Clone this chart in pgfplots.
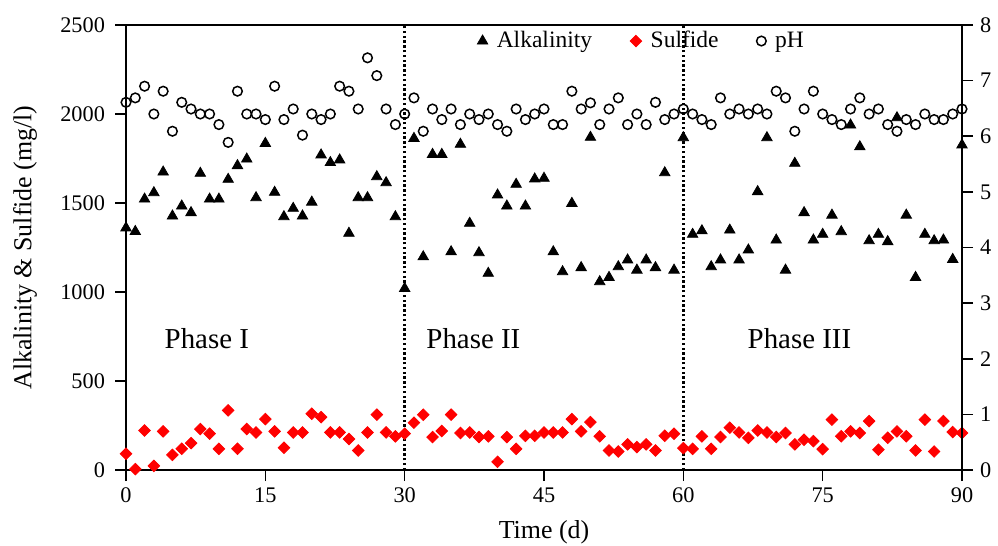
\documentclass[border=0pt]{standalone}
\usepackage{fontspec}
\setmainfont{Liberation Serif}
\usepackage{pgfplots}
\usepackage{pgfplotstable}
\pgfplotsset{compat=1.18}

\pgfplotstableread{
t alk sul ph
0 1360 91 6.61
1 1340 5 6.69
2 1522 222 6.90
3 1558 23 6.40
4 1674 217 6.81
5 1427 85 6.09
6 1483 119 6.61
7 1446 151 6.49
8 1667 230 6.40
9 1522 204 6.40
10 1522 119 6.21
11 1633 335 5.89
12 1710 119 6.81
13 1747 230 6.40
14 1530 211 6.40
15 1835 286 6.30
16 1560 217 6.90
17 1423 125 6.30
18 1470 211 6.49
19 1427 211 6.02
20 1505 316 6.40
21 1770 297 6.30
22 1727 211 6.40
23 1742 211 6.90
24 1330 174 6.81
25 1530 110 6.49
26 1530 211 7.41
27 1648 311 7.09
28 1614 211 6.49
29 1423 189 6.21
30 1020 204 6.40
31 1863 266 6.69
32 1198 311 6.09
33 1773 185 6.49
34 1773 219 6.30
35 1226 311 6.49
36 1830 208 6.21
37 1386 211 6.40
38 1221 185 6.30
39 1105 189 6.40
40 1545 46 6.21
41 1483 185 6.09
42 1605 119 6.49
43 1483 192 6.30
44 1635 192 6.40
45 1639 211 6.49
46 1226 211 6.21
47 1114 211 6.21
48 1498 286 6.81
49 1137 217 6.49
50 1869 269 6.60
51 1058 189 6.21
52 1082 110 6.49
53 1142 104 6.69
54 1180 144 6.21
55 1123 129 6.40
56 1180 144 6.21
57 1137 110 6.61
58 1670 192 6.30
59 1123 204 6.40
60 1867 123 6.49
61 1324 119 6.40
62 1344 189 6.30
63 1142 119 6.21
64 1180 185 6.69
65 1348 238 6.40
66 1180 211 6.49
67 1236 181 6.40
68 1564 222 6.49
69 1867 211 6.40
70 1292 185 6.81
71 1123 208 6.69
72 1723 144 6.09
73 1446 170 6.49
74 1292 162 6.81
75 1324 117 6.40
76 1432 283 6.30
77 1339 190 6.21
78 1938 217 6.49
79 1816 208 6.69
80 1288 275 6.40
81 1324 114 6.49
82 1283 181 6.21
83 1979 217 6.09
84 1432 190 6.30
85 1082 110 6.21
86 1324 283 6.40
87 1288 104 6.30
88 1292 275 6.30
89 1183 213 6.40
90 1826 208 6.49
}\datatable

\definecolor{sulred}{RGB}{255,0,0}

\pgfplotsset{
  common/.style={
    scale only axis,
    width=418bp, height=222.5bp,
    xmin=0, xmax=90,
    tick align=outside,
    major tick length=5.5bp,
    tick style={black, line width=0.8bp},
    axis line style={black, line width=1bp},
    /pgf/number format/assume math mode=true,
    /pgf/number format/1000 sep={},
    tick label style={font=\fontsize{11.2}{13}\selectfont, black},
    label style={font=\fontsize{13}{15}\selectfont, black},
  }
}

\begin{document}
\begin{tikzpicture}
\begin{axis}[common,
  name=main,
  ymin=0, ymax=2500,
  xtick={0,15,...,90},
  ytick={0,500,...,2500},
  xtick pos=left, ytick pos=left,
  yticklabel style={xshift=-1.5bp},
  xlabel={Time (d)},
  ylabel={Alkalinity \& Sulfide (mg/l)},
  xlabel style={at={([yshift=-31bp]axis description cs:0.5,0)}, anchor=center},
  ylabel style={at={([xshift=-50.5bp]axis description cs:0,0.5)}, anchor=center},
  legend columns=3,
  legend style={draw=none, fill=none, at={(0.618,0.964)}, anchor=center,
    font=\fontsize{11.8}{13}\selectfont,
    /tikz/every odd column/.append style={column sep=2.5bp},
    /tikz/every even column/.append style={column sep=17bp}},
]
\addplot[only marks, mark=triangle*, mark size=3bp, black, mark options={fill=black}]
  table[x=t, y=alk] {\datatable};
\addlegendentry{Alkalinity}
\addplot[only marks, mark=square*, mark size=2.05bp, sulred, mark options={rotate=45, fill=sulred, draw=sulred}]
  table[x=t, y=sul] {\datatable};
\addlegendentry{Sulfide}
\addlegendimage{only marks, mark=o, mark size=2.4bp, black, mark options={line width=0.75bp}}
\addlegendentry{pH}
\addplot[forget plot, black, line width=1.5bp, dash pattern=on 1.2bp off 1.2bp] coordinates {(30,0) (30,2500)};
\addplot[forget plot, black, line width=1.5bp, dash pattern=on 1.2bp off 1.2bp] coordinates {(60,0) (60,2500)};
\node[anchor=base, font=\fontsize{14.5}{16}\selectfont] at (axis cs:8.7,685) {Phase I};
\node[anchor=base, font=\fontsize{14.5}{16}\selectfont] at (axis cs:37.4,685) {Phase II};
\node[anchor=base, font=\fontsize{14.5}{16}\selectfont] at (axis cs:72.5,685) {Phase III};
\end{axis}
\begin{axis}[common,
  ymin=0, ymax=8,
  ytick={0,1,...,8},
  axis x line=none,
  axis y line*=right,
]
\addplot[only marks, mark=o, mark size=2.4bp, black, mark options={line width=0.75bp}]
  table[x=t, y=ph] {\datatable};
\end{axis}
\pgfresetboundingbox
\path ([xshift=-63bp, yshift=-37.5bp]main.south west) rectangle ([xshift=18bp, yshift=12.5bp]main.north east);
\end{tikzpicture}
\end{document}
